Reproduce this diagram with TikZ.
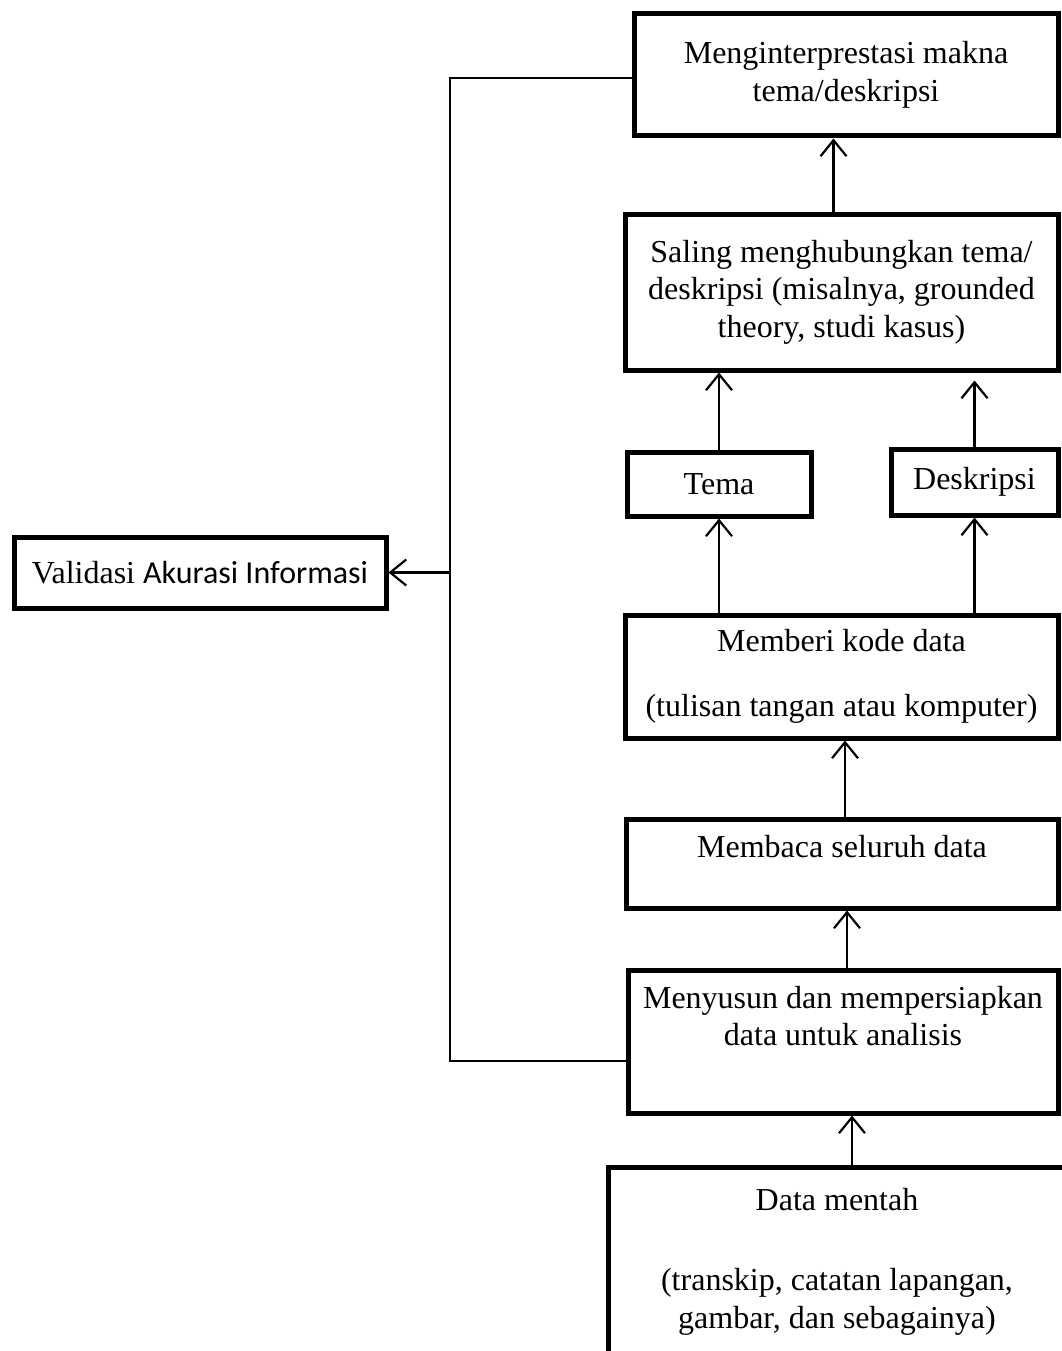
\documentclass[tikz,border=0pt]{standalone}
\usepackage{fontspec}
\setmainfont{Liberation Serif}
\newfontfamily\calibrifont{Carlito}
\usetikzlibrary{arrows.meta}

\begin{document}
\begin{tikzpicture}[x=1pt, y=-1pt, >={Straight Barb[length=16pt, width=26pt]},
    every node/.style={draw, line width=5pt, align=center, inner sep=0pt,
        font=\fontsize{32}{37.5}\selectfont},
    link/.style={line width=2.2pt},
    flow/.style={->, line width=2.2pt}]

\useasboundingbox (0,0) rectangle (1062,1351);

% Nodes for the analysis steps (top to bottom)
\node[minimum width=424pt, minimum height=122pt] (interp) at (846,75)
    {Menginterprestasi makna\\tema/deskripsi};
\node[minimum width=433pt, minimum height=156pt] (saling) at (841.5,292)
    {Saling menghubungkan tema/\\deskripsi (misalnya, grounded\\theory, studi kasus)};
\node[minimum width=184pt, minimum height=64pt] (tema) at (719,484) {Tema};
\node[minimum width=167pt, minimum height=66pt] (deskripsi) at (974.5,482) {Deskripsi};
\node[minimum width=433pt, minimum height=123pt] (kode) at (841.5,676.5)
    {Memberi kode data\\[28pt](tulisan tangan atau komputer)};
\node[minimum width=432pt, minimum height=89pt, text depth=35pt] (baca) at (842,863.5)
    {Membaca seluruh data};
\node[minimum width=430pt, minimum height=143pt, text depth=51pt] (susun) at (843,1041.5)
    {Menyusun dan mempersiapkan\\data untuk analisis};
\node[minimum width=458pt, minimum height=189pt] (mentah) at (837,1261.5)
    {Data mentah\\[43pt](transkip, catatan lapangan,\\gambar, dan sebagainya)};

% Node for the validation
\node[minimum width=372pt, minimum height=71pt] (validasi) at (200,572.5)
    {Validasi {\calibrifont Akurasi Informasi}};

% upward flow between the steps
\draw[flow] ([xshift=15pt]mentah.north) -- ([xshift=15pt]mentah.north |- susun.south);
\draw[flow] ([xshift=4pt]susun.north) -- ([xshift=4pt]susun.north |- baca.south);
\draw[flow] ([xshift=3pt]baca.north) -- ([xshift=3pt]baca.north |- kode.south);
\draw[flow] (kode.north -| tema) -- (tema.south);
\draw[flow] (kode.north -| deskripsi) -- (deskripsi.south);
\draw[flow] (tema.north) -- (tema.north |- saling.south);
\draw[flow, shorten >=8pt] (deskripsi.north) -- (deskripsi.north |- saling.south);
\draw[flow] ([xshift=-8pt]saling.north) -- ([xshift=-8pt]saling.north |- interp.south);

% validation line on the left
\coordinate (bend top) at (450,78);
\coordinate (bend low) at (450,1061);
\coordinate (split) at (bend top |- validasi.east);
\draw[link] (susun.west |- bend low) -- (bend low) -- (bend top) -- (interp.west |- bend top);
\draw[flow] (split) -- (validasi.east);

\end{tikzpicture}
\end{document}
